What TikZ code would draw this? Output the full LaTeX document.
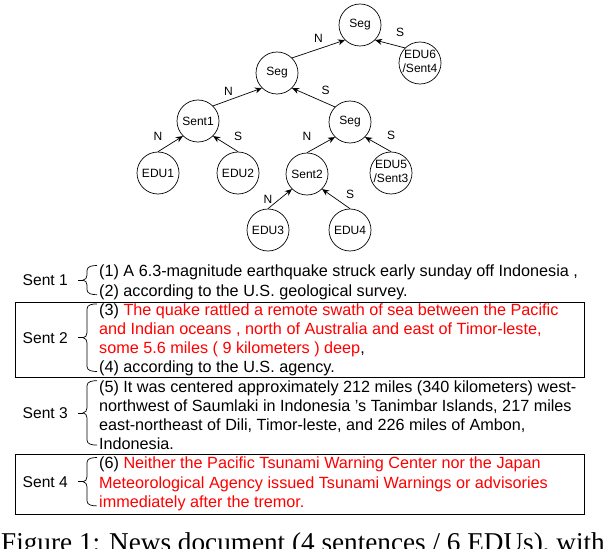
\documentclass[tikz,border=0pt]{standalone}
\usepackage{fontspec}
\setmainfont{Liberation Serif}
\setsansfont{Liberation Sans}
\usetikzlibrary{arrows.meta, calc}

\begin{document}
\begin{tikzpicture}[
        x=1pt, y=-1pt,
        tnode/.style ={draw, circle, minimum size=42pt, inner sep=0pt, line width=0.7pt,
                       font=\sffamily\fontsize{12}{14}\selectfont},
        edge/.style  ={-{Stealth[length=7pt, width=6pt]}, line width=0.7pt},
        lbl/.style   ={inner sep=0pt, font=\sffamily\fontsize{12}{14}\selectfont},
        sent/.style  ={anchor=north west, inner sep=0pt, align=left,
                       font=\sffamily\fontsize{16.2}{19.2}\selectfont},
        slabel/.style={anchor=east, inner sep=0pt, font=\sffamily\fontsize{15.6}{18}\selectfont},
        brc/.style   ={line width=0.7pt},
        sentbox/.style={draw, line width=0.9pt},
    ]
    \useasboundingbox (0,0) rectangle (604,548);
    \clip (0,0) rectangle (604,548);

    %% Tree
    \node[tnode] (seg0) at (360, 25)  {Seg};
    \node[tnode] (seg1) at (277, 73)  {Seg};
    \node[tnode] (edu6) at (420, 63)  {\makebox[0pt]{\begin{tabular}{@{}c@{}}EDU6\\/Sent4\end{tabular}}};
    \node[tnode] (st1)  at (198, 121) {Sent1};
    \node[tnode] (seg2) at (350, 122) {Seg};
    \node[tnode] (edu1) at (158, 173) {EDU1};
    \node[tnode] (edu2) at (238, 173) {EDU2};
    \node[tnode] (st2)  at (307, 174) {Sent2};
    \node[tnode] (edu5) at (391, 173) {\makebox[0pt]{\begin{tabular}{@{}c@{}}EDU5\\/Sent3\end{tabular}}};
    \node[tnode] (edu3) at (268, 230) {EDU3};
    \node[tnode] (edu4) at (350, 230) {EDU4};

    %% Tree edges (child -> parent)
    \draw[edge] (seg1.north east) -- (seg0.south west) node[lbl, midway, yshift=11pt] {N};
    \draw[edge] (edu6.north west) -- (seg0.south east) node[lbl, midway, xshift=10pt, yshift=12pt] {S};
    \draw[edge] (st1.north east)  -- (seg1.south west) node[lbl, midway, xshift=-9pt, yshift=6pt] {N};
    \draw[edge] (seg2.north west) -- (seg1.south east) node[lbl, midway, xshift=12pt, yshift=7pt] {S};
    \draw[edge] (edu1.north) -- (st1.south west)  node[lbl, at start, yshift=15pt] {N};
    \draw[edge] (edu2.north) -- (st1.south east)  node[lbl, at start, yshift=15pt] {S};
    \draw[edge] (st2.north)  -- (seg2.south west) node[lbl, at start, yshift=16pt] {N};
    \draw[edge] (edu5.north) -- (seg2.south east) node[lbl, at start, yshift=16pt] {S};
    \draw[edge] (edu3.north) -- (st2.south west)  node[lbl, at start, yshift=9pt] {N};
    \draw[edge] (edu4.north) -- (st2.south east)  node[lbl, at start, yshift=14pt] {S};

    %% Sentences
    \node[sent] (s1) at (99, 265)
        {(1) A 6.3-magnitude earthquake struck early sunday off Indonesia ,\\
         (2) according to the U.S. geological survey.};
    \node[sent] (s2) at (99, 303.4)
        {(3) \textcolor{red}{The quake rattled a remote swath of sea between the Pacific}\\
         \textcolor{red}{and Indian oceans , north of Australia and east of Timor-leste,}\\
         \textcolor{red}{some 5.6 miles ( 9 kilometers ) deep},\\
         (4) according to the U.S. agency.};
    \node[sent] (s3) at (99, 380.2)
        {(5) It was centered approximately 212 miles (340 kilometers) west-\\
         northwest of Saumlaki in Indonesia 's Tanimbar Islands, 217 miles\\
         east-northeast of Dili, Timor-leste, and 226 miles of Ambon,\\
         Indonesia.};
    \node[sent] (s4) at (99, 457)
        {(6) \textcolor{red}{Neither the Pacific Tsunami Warning Center nor the Japan}\\
         \textcolor{red}{Meteorological Agency issued Tsunami Warnings or advisories}\\
         \textcolor{red}{immediately after the tremor.}};

    %% Braces and sentence labels
    \foreach \k in {1,...,4} {
        \coordinate (bt\k) at ($(s\k.north west) + (-2, 0.5)$);
        \coordinate (bb\k) at ($(s\k.south west) + (-2, -5)$);
        \coordinate (tip\k) at ($(bt\k)!0.5!(bb\k) + (-14, 0)$);
        \draw[brc] let \p1=(bt\k), \p2=(bb\k), \p3=(tip\k) in
            (\p1) to[out=180, in=90] (\x1-10pt, \y1-5pt)
            -- (\x1-10pt, \y3+5pt) to[out=-90, in=0] (\p3)
            to[out=0, in=90] (\x1-10pt, \y3-5pt)
            -- (\x1-10pt, \y2+5pt) to[out=-90, in=180] (\p2);
        \draw[brc] (tip\k) -- ++(-5,0);
        \node[slabel] (lab\k) at ($(tip\k) + (-15,0)$) {Sent \k};
    }

    %% Frames round sentences 2 and 4
    \draw[sentbox] (15, 302) rectangle (584, 377);
    \draw[sentbox] (15, 454) rectangle (584, 514);

    %% Caption (cut off by the picture's lower edge)
    \node[anchor=base west, inner sep=0pt, font=\fontsize{27.2}{30}\selectfont] (cap) at (1, 551)
        {Figure 1: News document (4 sentences / 6 EDUs), with};
\end{tikzpicture}
\end{document}
